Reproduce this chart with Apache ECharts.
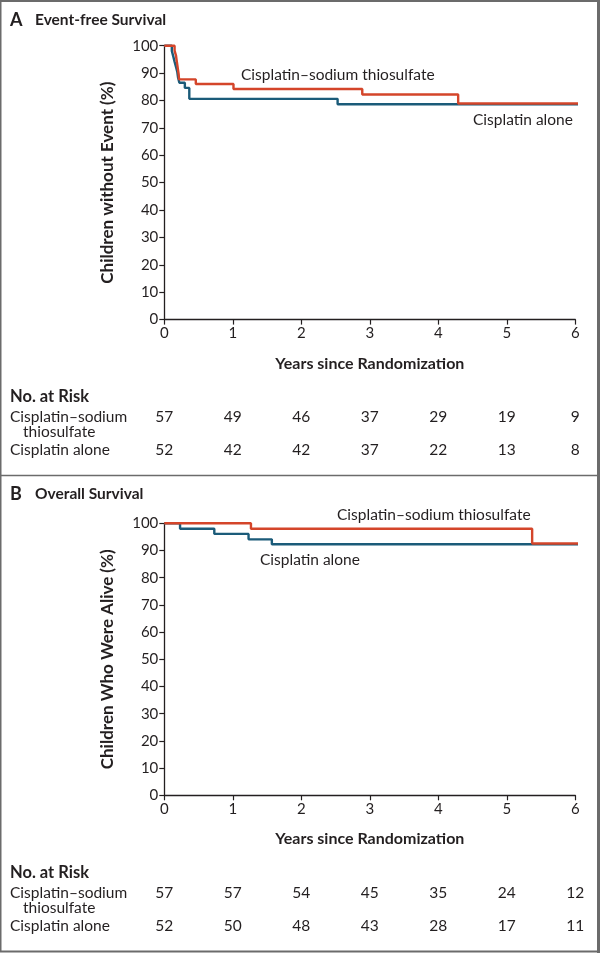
<!DOCTYPE html>
<html>
<head>
<meta charset="utf-8">
<script src="https://cdn.jsdelivr.net/npm/echarts@6/dist/echarts.min.js"></script>
<style>
html,body{margin:0;padding:0;background:#fff;}
#main{width:600px;height:953px;}
</style>
</head>
<body>
<div id="main"></div>
<script>
// ---------- DATA ----------
var xTicks = [0, 1, 2, 3, 4, 5, 6];
var yTicks = [0, 10, 20, 30, 40, 50, 60, 70, 80, 90, 100];

// Panel A: Event-free survival (years, % without event)
var efsStsTime  = [0, 0.15, 0.17, 0.18, 0.19, 0.20, 0.21, 0.215, 0.46, 1.01, 2.89, 4.29, 6.05];
var efsStsValue = [100, 98.2, 96.5, 94.7, 93.0, 91.2, 89.5, 87.7, 86.0, 84.2, 82.2, 78.9, 78.9];
var efsCisTime  = [0, 0.11, 0.13, 0.15, 0.17, 0.19, 0.20, 0.22, 0.30, 0.365, 2.53, 6.05];
var efsCisValue = [100, 98.1, 96.2, 94.2, 92.3, 90.4, 88.5, 86.5, 84.6, 80.6, 78.6, 78.6];

// Panel B: Overall survival
var osStsTime  = [0, 1.265, 5.37, 6.05];
var osStsValue = [100, 98.0, 92.6, 92.6];
var osCisTime  = [0, 0.23, 0.73, 1.23, 1.57, 6.05];
var osCisValue = [100, 98.0, 96.1, 94.1, 92.3, 92.3];

// Numbers at risk
var riskYears = [0, 1, 2, 3, 4, 5, 6];
var efsRiskSts = [57, 49, 46, 37, 29, 19, 9];
var efsRiskCis = [52, 42, 42, 37, 22, 13, 8];
var osRiskSts  = [57, 57, 54, 45, 35, 24, 12];
var osRiskCis  = [52, 50, 48, 43, 28, 17, 11];

var groupSts = 'Cisplatin\u2013sodium thiosulfate';
var groupCis = 'Cisplatin alone';
var riskRowSts1 = 'Cisplatin\u2013sodium';
var riskRowSts2 = 'thiosulfate';

// ---------- STYLE ----------
var FONT = 'Lato';
var TXT = '#231f20';
var RED = '#d4452a';
var BLUE = '#1b5b79';

function pairs(t, v){ return t.map(function(x,i){ return [x, v[i]]; }); }

var chart = echarts.init(document.getElementById('main'), null, {renderer:'canvas'});

function xAxisCfg(gi){
  return {
    type:'value', gridIndex:gi, min:0, max:6, interval:1,
    name:'Years since Randomization', nameLocation:'middle', nameGap:36,
    nameTextStyle:{fontFamily:FONT, fontWeight:'bold', fontSize:16, color:TXT},
    axisLine:{show:true, onZero:false, lineStyle:{color:TXT, width:1.3}},
    axisTick:{show:true, length:5, lineStyle:{color:TXT, width:1.2}},
    axisLabel:{fontFamily:FONT, fontSize:15, color:TXT, margin:6},
    splitLine:{show:false}
  };
}
function yAxisCfg(gi, name){
  return {
    type:'value', gridIndex:gi, min:0, max:100, interval:10,
    name:name, nameLocation:'middle', nameGap:48,
    nameTextStyle:{fontFamily:FONT, fontWeight:'bold', fontSize:17, color:TXT},
    axisLine:{show:true, onZero:false, lineStyle:{color:TXT, width:1.3}},
    axisTick:{show:true, length:5, lineStyle:{color:TXT, width:1.2}},
    axisLabel:{fontFamily:FONT, fontSize:15, color:TXT, margin:6},
    splitLine:{show:false}
  };
}
function km(gi, data, color, z){
  return {
    type:'line', xAxisIndex:gi, yAxisIndex:gi, data:data, step:'end',
    symbol:'none', clip:false, z:z, animation:false,
    lineStyle:{color:color, width:2.4}
  };
}

chart.setOption({
  animation:false,
  grid:[
    {left:164.3, top:45.7, width:411, height:273.9, containLabel:false},
    {left:164.3, top:523.3, width:411, height:272, containLabel:false}
  ],
  xAxis:[xAxisCfg(0), xAxisCfg(1)],
  yAxis:[yAxisCfg(0,'Children without Event (%)'), yAxisCfg(1,'Children Who Were Alive (%)')],
  series:[
    km(0, pairs(efsCisTime, efsCisValue), BLUE, 2),
    km(0, pairs(efsStsTime, efsStsValue), RED, 3),
    km(1, pairs(osCisTime, osCisValue), BLUE, 2),
    km(1, pairs(osStsTime, osStsValue), RED, 3)
  ]
});

// ---------- annotations ----------
function txt(x, y, s, opt){
  opt = opt || {};
  return {type:'text', x:x, y:y, silent:true, style:{
    text:s, fill:TXT, fontFamily:FONT, fontSize:opt.size||14,
    fontWeight:opt.bold?'bold':'normal',
    textAlign:opt.align||'left', textVerticalAlign:'middle'
  }};
}
var g = [];
// frame
g.push({type:'rect', shape:{x:0.5, y:1, width:597.5, height:950.5}, style:{fill:'none', stroke:'#6b6b6b', lineWidth:2}, silent:true});
g.push({type:'line', shape:{x1:598.5, y1:0, x2:598.5, y2:953}, style:{stroke:'#6b6b6b', lineWidth:3}, silent:true});
g.push({type:'line', shape:{x1:0, y1:475.5, x2:600, y2:475.5}, style:{stroke:'#6b6b6b', lineWidth:1.5}, silent:true});

// panel titles
g.push(txt(10, 20, 'A', {bold:true, size:18}));
g.push(txt(35, 20, 'Event-free Survival', {bold:true, size:15.5}));
g.push(txt(10, 494, 'B', {bold:true, size:18}));
g.push(txt(35, 494, 'Overall Survival', {bold:true, size:15.5}));

// curve labels
g.push(txt(241, 75, groupSts, {size:15.5}));
g.push(txt(473, 120, groupCis, {size:15.5}));
g.push(txt(337, 515, groupSts, {size:15.5}));
g.push(txt(260, 560, groupCis, {size:15.5}));

// risk tables
function riskTable(gi, yTop, sts, cis){
  g.push(txt(10, yTop, 'No. at Risk', {bold:true, size:16.5}));
  g.push(txt(10, yTop+20, riskRowSts1, {size:15.5}));
  g.push(txt(23, yTop+35, riskRowSts2, {size:15.5}));
  g.push(txt(10, yTop+53, groupCis, {size:15.5}));
  riskYears.forEach(function(yr, i){
    var px = chart.convertToPixel({gridIndex:gi}, [yr, 0])[0];
    g.push(txt(px, yTop+20, String(sts[i]), {size:15.5, align:'center'}));
    g.push(txt(px, yTop+53, String(cis[i]), {size:15.5, align:'center'}));
  });
}
riskTable(0, 397, efsRiskSts, efsRiskCis);
riskTable(1, 873, osRiskSts, osRiskCis);

chart.setOption({graphic:g});
</script>
</body>
</html>
